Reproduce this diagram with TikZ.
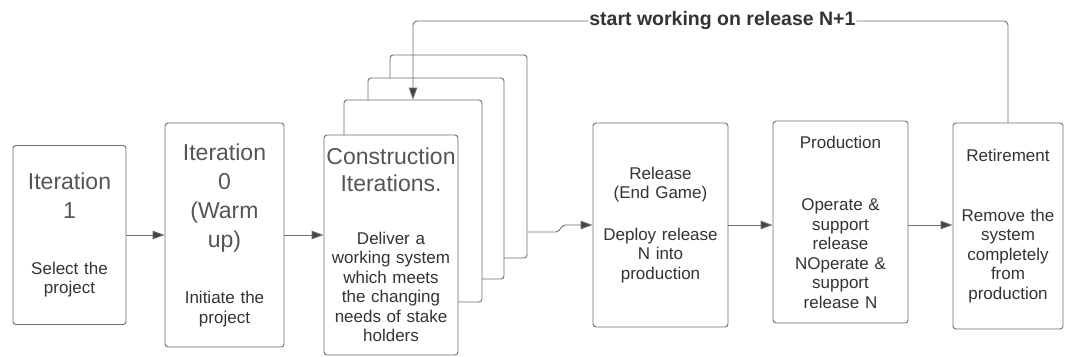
\documentclass[tikz,border=0pt]{standalone}
\usepackage{fontspec}
\setmainfont{Liberation Sans}
\usepackage{tikz}
\usetikzlibrary{positioning,arrows.meta}
\usepackage{xcolor}
\definecolor{edge}{HTML}{6E6E6E}
\definecolor{ink}{HTML}{333333}
\definecolor{soft}{HTML}{555555}
\definecolor{tip}{HTML}{444444}
\newcommand{\ttl}{\fontsize{23}{29}\selectfont\color{soft}}
\newcommand{\bdy}{\fontsize{17}{19.5}\selectfont\color{ink}}

\begin{document}
\begin{tikzpicture}[x=1pt,y=-1pt,
  phase/.style={draw=edge,fill=white,rounded corners=3pt,line width=0.9pt,align=center,inner xsep=1pt,inner ysep=0pt,text=ink,font=\bdy},
  flow/.style={->,draw=edge,line width=0.9pt},
  >={Triangle[length=12pt,width=8.5pt,fill=tip]}]
 \useasboundingbox (0,0) rectangle (1065,356);
 % first two phases
 \node[phase,minimum height=179pt,text width=111pt] (it1) at (69.5,235) {\ttl Iteration\\1\\[36pt]\bdy Select the\\project};
 \node[phase,minimum height=224pt,text width=117pt] (it0) at (224.5,235) {\ttl Iteration\\0\\(Warm\\up)\\[37pt]\bdy Initiate the\\project};
 % stack of construction iterations
 \node[phase,minimum width=137pt,minimum height=203pt] (stk3) at (458.5,156.5) {};
 \node[phase,minimum width=136pt,minimum height=201pt] (stk2) at (436,178.5) {};
 \node[phase,minimum width=138pt,minimum height=202pt] (stk1) at (413,201) {};
 \node[phase,minimum height=220pt,text width=132pt] (cons) at (391,245) {\ttl Construction\\[-2pt]Iterations.\\[33pt]\bdy Deliver a\\working system\\which meets\\the changing\\needs of stake\\holders};
 % later phases
 \node[phase,minimum height=204pt,text width=133pt] (rel) at (660.5,225) {Release\\(End Game)\\[22pt]Deploy release\\N into\\production};
 \node[phase,minimum height=202pt,text width=133pt] (prod) at (840.5,222) {Production\\[43pt]Operate \&\\support\\release\\NOperate \&\\support\\release N};
 \node[phase,minimum height=206pt,text width=108pt] (ret) at (1008,226) {Retirement\\[40pt]Remove the\\system\\completely\\from\\production};
 % connectors
 \coordinate (jog) at (558,232);
 \coordinate (loop) at (0,21);
 \draw[flow] (it1) -- (it0);
 \draw[flow] (it0) -- (cons.west |- it0);
 \draw[flow,rounded corners=2pt] (stk3.east |- jog) -- (jog) -- ++(5,-7) -- (rel.west);
 \draw[flow] (rel.east) -- (rel.east -| prod.west);
 \draw[flow] (prod.east |- rel) -- (ret.west |- rel);
 \draw[flow,rounded corners=4pt] (ret.north) -- (ret.north |- loop) -- node[pos=0.48,fill=white,text=ink,inner xsep=1pt,font=\fontsize{19.5}{21}\selectfont\bfseries] (lbl) {start working on release N+1} (stk1.north |- loop) -- (stk1.north);
\end{tikzpicture}
\end{document}
